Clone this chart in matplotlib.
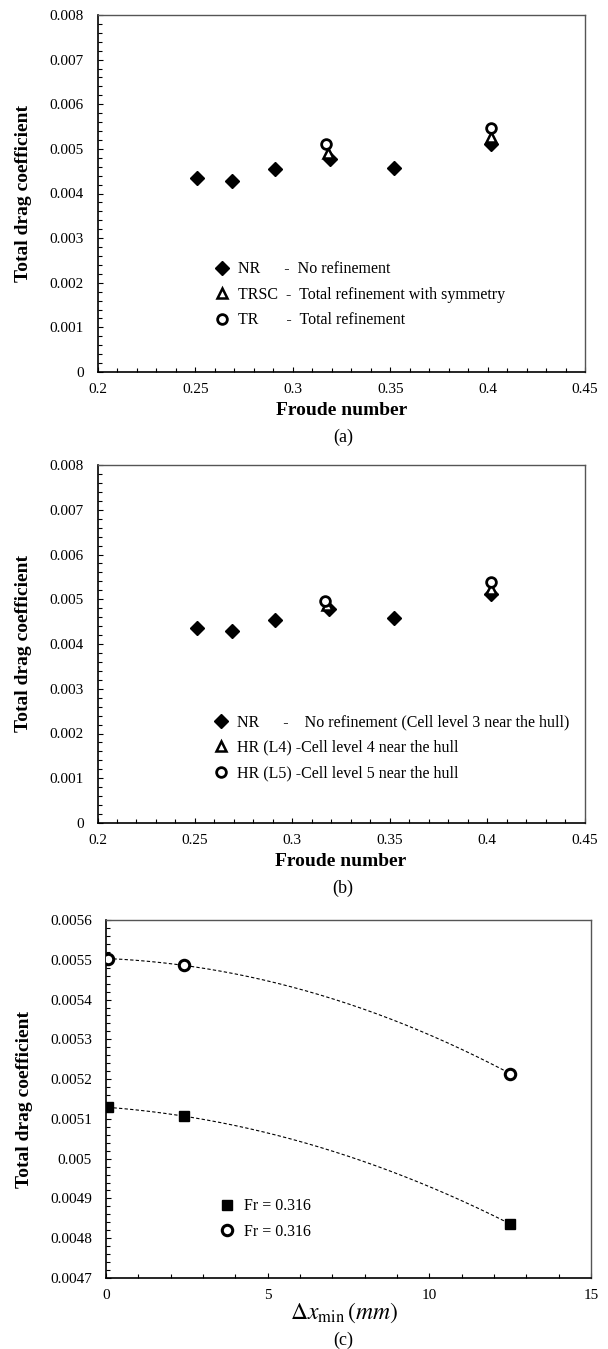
import numpy as np
import matplotlib.pyplot as plt
from matplotlib.ticker import MultipleLocator, FuncFormatter

plt.rcParams['font.family'] = ['Liberation Serif', 'DejaVu Serif']
plt.rcParams['mathtext.fontset'] = 'stix'

# Froude number sweep, no refinement (same in (a) and (b))
fr_nr = [0.251, 0.269, 0.291, 0.319, 0.352, 0.402]
cd_nr = [0.00435, 0.00428, 0.00454, 0.00478, 0.00458, 0.00512]

# refined meshes at two Froude numbers
fr_tri = [0.318, 0.402]
fr_circ = [0.317, 0.402]
cd_trsc = [0.00491, 0.00527]
cd_tr = [0.00511, 0.00547]
cd_hr4 = [0.00488, 0.00523]
cd_hr5 = [0.00496, 0.00538]

labels_a = ['NR      -  No refinement',
            'TRSC  -  Total refinement with symmetry',
            'TR       -  Total refinement']
labels_b = ['NR      -    No refinement (Cell level 3 near the hull)',
            'HR (L4) -Cell level 4 near the hull',
            'HR (L5) -Cell level 5 near the hull']

# (c) grid convergence
dx_min = [0.06, 2.4, 12.5]
cd_sq = [0.005129, 0.005107, 0.004836]
cd_circ = [0.005503, 0.005486, 0.005214]
labels_c = ['Fr = 0.316', 'Fr = 0.316']

W, H = 608, 1349
fig = plt.figure(figsize=(W / 100, H / 100), dpi=100)

fmt = FuncFormatter(lambda v, p: f'{v:g}')


def style_axes(ax):
    for s in ['left', 'bottom']:
        ax.spines[s].set_color('black')
        ax.spines[s].set_linewidth(1.2)
    for s in ['top', 'right']:
        ax.spines[s].set_color('#555555')
        ax.spines[s].set_linewidth(1.0)
    ax.tick_params(which='both', direction='in', top=False, right=False, width=0.8, labelsize=11)
    ax.tick_params(which='major', length=3.8)
    ax.tick_params(which='minor', length=2.6)
    ax.tick_params(axis='y', pad=10)
    ax.tick_params(axis='x', pad=8)
    ax.xaxis.set_major_formatter(fmt)
    ax.yaxis.set_major_formatter(fmt)


def froude_panel(rect, cd_t, cd_c, labels, caption, cap_y, leg_y):
    ax = fig.add_axes(rect)
    ax.plot(fr_nr, cd_nr, linestyle='none', marker='D', ms=7.5, color='black', mew=1)
    ax.plot(fr_tri, cd_t, linestyle='none', marker='^', ms=7.5, mfc='white', mec='black', mew=1.8)
    ax.plot(fr_circ, cd_c, linestyle='none', marker='o', ms=7, mfc='white', mec='black', mew=2)
    ax.set_xlim(0.2, 0.45)
    ax.set_ylim(0, 0.008)
    ax.xaxis.set_major_locator(MultipleLocator(0.05))
    ax.xaxis.set_minor_locator(MultipleLocator(0.01))
    ax.yaxis.set_major_locator(MultipleLocator(0.001))
    ax.yaxis.set_minor_locator(MultipleLocator(0.0002))
    style_axes(ax)
    ax.set_xlabel('Froude number', fontsize=14, fontweight='bold')
    ax.set_ylabel('Total drag coefficient', fontsize=14, fontweight='bold')
    ax.xaxis.set_label_coords(0.5, -0.108)
    ax.xaxis.label.set_va('center')
    ax.yaxis.set_label_coords(-0.152, 0.5)
    ax.yaxis.label.set_va('center')
    ax.legend(labels, loc='center left', bbox_to_anchor=(0.238, leg_y), frameon=False,
              fontsize=11.5, handlelength=1.0, handletextpad=0.5, labelspacing=0.6,
              borderpad=0, borderaxespad=0, numpoints=1)
    fig.text(343 / W, cap_y, caption, ha='center', va='center', fontsize=13)
    return ax


froude_panel([98 / W, 1 - 372 / H, 487 / W, 357 / H], cd_trsc, cd_tr, labels_a, '(a)', 1 - 437 / H, 0.216)
froude_panel([97.5 / W, 1 - 823 / H, 487 / W, 358 / H], cd_hr4, cd_hr5, labels_b, '(b)', 1 - 888 / H, 0.21)

# (c) drag coefficient against minimum cell size, with quadratic trend lines
ax = fig.add_axes([106 / W, 1 - 1278 / H, 485 / W, 358 / H])
xs = np.linspace(min(dx_min), max(dx_min), 200)
for cd in (cd_sq, cd_circ):
    p = np.polyfit(dx_min, cd, 2)
    ax.plot(xs, np.polyval(p, xs), color='black', lw=0.8, dashes=(3, 2))
ax.plot(dx_min, cd_sq, linestyle='none', marker='s', ms=7, color='black', mew=1, zorder=3)
ax.plot(dx_min, cd_circ, linestyle='none', marker='o', ms=7.5, mfc='white', mec='black', mew=2.2, zorder=3)
ax.set_xlim(0, 15)
ax.set_ylim(0.0047, 0.0056)
ax.xaxis.set_major_locator(MultipleLocator(5))
ax.xaxis.set_minor_locator(MultipleLocator(1))
ax.yaxis.set_major_locator(MultipleLocator(0.0001))
ax.yaxis.set_minor_locator(MultipleLocator(0.00002))
style_axes(ax)
ax.set_xlabel(r'$\Delta x_{\mathrm{min}}\,(mm)$', fontsize=17)
ax.set_ylabel('Total drag coefficient', fontsize=14, fontweight='bold')
ax.xaxis.set_label_coords(0.49, -0.098)
ax.xaxis.label.set_va('center')
ax.yaxis.set_label_coords(-0.169, 0.5)
ax.yaxis.label.set_va('center')
handles = ax.get_lines()[2:]
ax.legend(handles, labels_c, loc='center left', bbox_to_anchor=(0.232, 0.165), frameon=False,
          fontsize=11.5, handlelength=1.0, handletextpad=0.6, labelspacing=0.6,
          borderpad=0, borderaxespad=0, numpoints=1)
fig.text(343 / W, 1 - 1340 / H, '(c)', ha='center', va='center', fontsize=13)

fig.savefig('out.png', dpi=100)
